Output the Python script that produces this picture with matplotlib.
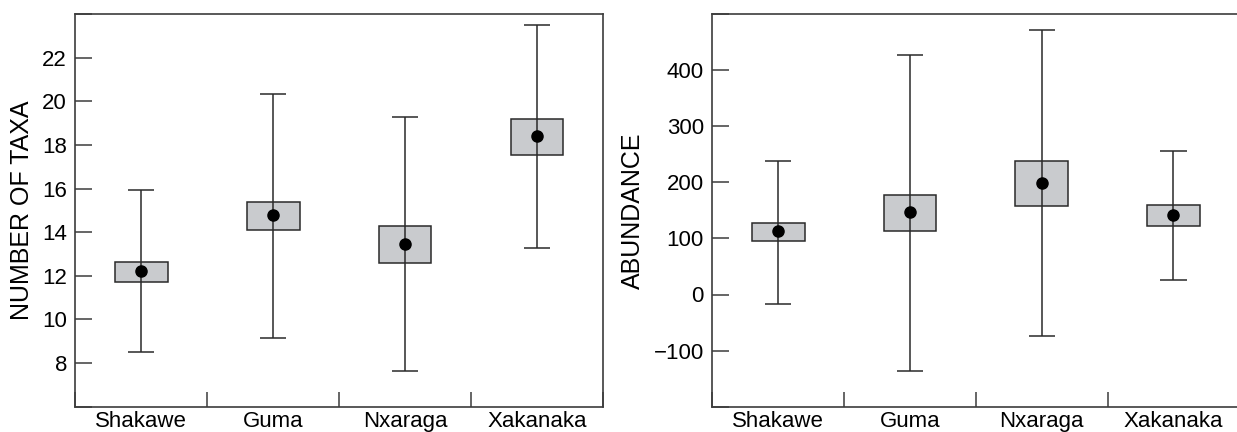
import matplotlib
matplotlib.use("Agg")
import matplotlib.pyplot as plt
import numpy as np

plt.rcParams['font.family'] = ['Liberation Sans', 'DejaVu Sans']

sites = ["Shakawe", "Guma", "Nxaraga", "Xakanaka"]

# Number of taxa
taxa_mean = [12.24, 14.79, 13.45, 18.41]
taxa_box_lo = [11.73, 14.11, 12.59, 17.53]
taxa_box_hi = [12.65, 15.39, 14.30, 19.19]
taxa_wh_lo = [8.49, 9.17, 7.62, 13.26]
taxa_wh_hi = [15.92, 20.32, 19.27, 23.48]

# Abundance
abund_mean = [112.6, 146.5, 198.7, 141.7]
abund_box_lo = [95.3, 113.7, 158.2, 122.1]
abund_box_hi = [126.8, 177.9, 237.9, 159.5]
abund_wh_lo = [-16.9, -135.7, -73.9, 25.9]
abund_wh_hi = [238.4, 426.7, 471.3, 255.7]

W, H = 1237, 432
fig = plt.figure(figsize=(W / 100, H / 100), dpi=100)

spine_col = "#3c3c3c"
line_col = "#2a2a2a"
box_col = "#c9cbce"
TICK_FS = 16
LABEL_FS = 18


def panel(ax, mean, blo, bhi, wlo, whi, ylim, yticks, ylabel):
    x = np.arange(len(sites))
    ax.vlines(x, wlo, whi, color=line_col, lw=1.1, zorder=3)
    ax.hlines(wlo, x - 0.1, x + 0.1, color=line_col, lw=1.1, zorder=3)
    ax.hlines(whi, x - 0.1, x + 0.1, color=line_col, lw=1.1, zorder=3)
    ax.bar(x, np.array(bhi) - np.array(blo), bottom=blo, width=0.4,
           color=box_col, edgecolor=line_col, linewidth=1.1, zorder=2)
    ax.plot(x, mean, 'o', color='black', ms=8, zorder=4)
    ax.set_xlim(-0.5, 3.5)
    ax.set_ylim(*ylim)
    ax.set_xticks(x)
    ax.set_xticklabels(sites, fontsize=TICK_FS)
    ax.tick_params(axis='x', which='major', length=0, pad=3)
    ax.set_xticks([-0.5, 0.5, 1.5, 2.5, 3.5], minor=True)
    ax.tick_params(axis='x', which='minor', direction='in', length=11,
                   width=1.1, color=spine_col)
    ax.set_yticks(yticks)
    ax.set_yticklabels([str(t).replace('-', '\u2212')
                        if i not in (0, len(yticks) - 1) else ""
                        for i, t in enumerate(yticks)], fontsize=TICK_FS)
    ax.tick_params(axis='y', direction='in', length=12, width=1.1,
                   color=spine_col, pad=6)
    ax.set_ylabel(ylabel, fontsize=LABEL_FS, labelpad=6)
    for s in ax.spines.values():
        s.set_color(spine_col)
        s.set_linewidth(1.2)


ax1 = fig.add_axes([75.3 / W, 25.3 / H, 527.7 / W, 392.7 / H])
panel(ax1, taxa_mean, taxa_box_lo, taxa_box_hi, taxa_wh_lo, taxa_wh_hi,
      (6, 24), list(range(6, 25, 2)), "NUMBER OF TAXA")

ax2 = fig.add_axes([712.3 / W, 25.3 / H, 527.0 / W, 392.7 / H])
panel(ax2, abund_mean, abund_box_lo, abund_box_hi, abund_wh_lo, abund_wh_hi,
      (-200, 500), list(range(-200, 501, 100)), "ABUNDANCE")

fig.savefig("out.png", dpi=100)
